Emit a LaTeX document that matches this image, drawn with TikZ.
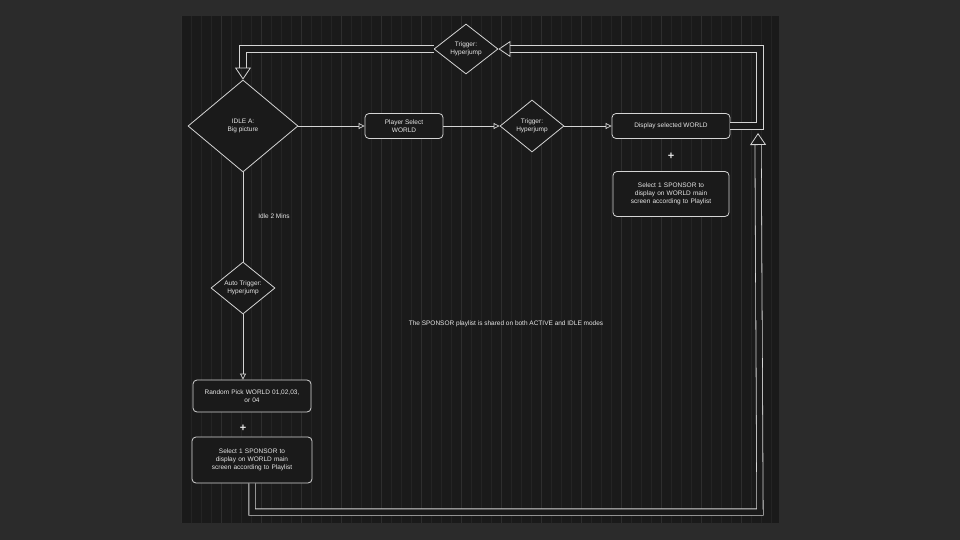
\documentclass[tikz,border=0pt]{standalone}
\usepackage{fontspec}
\setmainfont{Liberation Sans}
\usetikzlibrary{shapes.geometric,arrows.meta,positioning}
\definecolor{pagebg}{HTML}{2B2B2B}
\definecolor{canvasbg}{HTML}{1A1A1A}
\definecolor{gridminor}{HTML}{242424}
\definecolor{gridmajor}{HTML}{2E2E2E}
\definecolor{linegray}{HTML}{D4D4D4}
\definecolor{textgray}{HTML}{E6E6E6}

\begin{document}
\begin{tikzpicture}[
  x=1pt, y=-1pt,
  >={Triangle[open,width=6pt,length=6pt]},
  every node/.style={font=\fontsize{6.5}{8}\selectfont, text=textgray},
  process/.style={
    rectangle, rounded corners=4pt, draw=linegray, fill=canvasbg,
    minimum width=#1, align=center, inner sep=2pt, line width=0.8pt
  },
  process/.default=78pt,
  decision/.style={
    diamond, draw=linegray, fill=canvasbg, aspect=1.25, align=center,
    inner sep=0pt, line width=0.8pt, minimum width=64pt, minimum height=52pt
  },
  arrow/.style={->, draw=linegray, line width=0.7pt},
  flexarrow/.style={
    draw=linegray, line width=0.8pt, double=canvasbg, double distance=5.5pt,
    line join=miter,
    -{Triangle[open,width=16pt,length=12pt]}
  },
]
  % Canvas
  \fill[pagebg] (0,0) rectangle (960,540);
  \fill[canvasbg] (181,16) rectangle (779,523);
  \draw[gridminor, line width=0.3pt, xstep=10, ystep=10, shift={(181,16)}] (0,0) grid (598,507);
  \draw[gridmajor, line width=0.4pt, xstep=40, ystep=40, shift={(181,16)}] (0,0) grid (598,507);
  \useasboundingbox (0,0) rectangle (960,540);

  % Top row
  \node[decision, minimum width=110pt, minimum height=92pt] (idle) at (243,126) {IDLE A:\\Big picture};
  \node[process, minimum height=25pt] (select) at (404,126) {Player Select\\WORLD};
  \node[decision] (trigger) at (532,126) {Trigger:\\Hyperjump};
  \node[process=118pt, minimum height=25pt] (display) at (671,126) {Display selected WORLD};
  \node[font=\bfseries\fontsize{11}{11}\selectfont] (plusright) at (671,156) {+};
  \node[process=116pt, minimum height=45pt, text width=112pt] (sponsorright) at (671,194)
    {Select 1 SPONSOR to display on WORLD main screen according to Playlist};

  % Return trigger
  \node[decision, minimum height=50pt] (jumpback) at (466,49) {Trigger:\\Hyperjump};
  \node (textlabel) at (713,50) {Text};

  % Idle branch
  \node (idlelabel) at (274,216) {Idle 2 Mins};
  \node[decision] (auto) at (243,288) {Auto Trigger:\\Hyperjump};
  \node[process=117pt, minimum height=32pt, text width=114pt] (random) at (252,396) {Random Pick WORLD 01,02,03,\\or 04};
  \node[font=\bfseries\fontsize{11}{11}\selectfont] (plusleft) at (243,428) {+};
  \node[process=117pt, minimum height=46pt, text width=116pt] (sponsorleft) at (252,460)
    {Select 1 SPONSOR to display on WORLD main screen according to Playlist};

  \node (note) at (506,324) {The SPONSOR playlist is shared on both ACTIVE and IDLE modes};

  % Arrows
  \draw[arrow] (idle) -- (select);
  \draw[arrow] (select) -- (trigger);
  \draw[arrow] (trigger) -- (display);
  \draw[arrow, -] (idle.south) -- (auto.north);
  \draw[arrow] (auto.south) -- (random.north -| auto.south);

  % Flex arrows
  \coordinate (loopend) at (758,133);
  \draw[flexarrow] (display.east) -| (760,49) -- (jumpback.east);
  \draw[flexarrow] (jumpback.west) -| (idle.north);
  \draw[flexarrow] (sponsorleft.south) |- (760,512) -- (loopend);
\end{tikzpicture}
\end{document}
